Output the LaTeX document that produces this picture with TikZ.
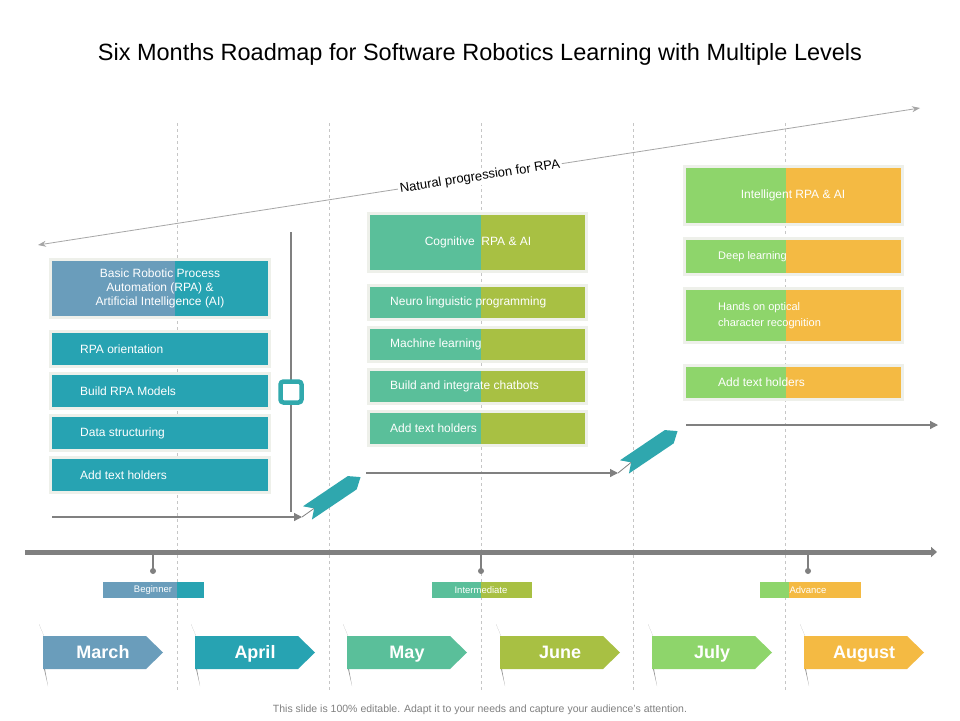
\documentclass[tikz,border=0pt]{standalone}
\usepackage{fontspec}
\setmainfont{Liberation Sans}
\usetikzlibrary{arrows.meta,calc}
\definecolor{cA}{HTML}{6A9DBB}
\definecolor{cB}{HTML}{27A3B2}
\definecolor{cC}{HTML}{5ABF9A}
\definecolor{cD}{HTML}{A8C043}
\definecolor{cE}{HTML}{8ED56B}
\definecolor{cF}{HTML}{F4BA43}
\definecolor{frame}{HTML}{EEF0EA}
\definecolor{ln}{HTML}{808080}
\tikzset{
 txt/.style={text=white,font=\fontsize{12}{14}\selectfont,align=left,anchor=west,inner sep=0},
 ctxt/.style={text=white,font=\fontsize{12}{14}\selectfont,align=center,inner sep=0},
 lvl/.style={text=white,font=\fontsize{9.5}{10}\selectfont},
 conn/.style={draw=ln,line width=1.2pt,-{Triangle[length=8pt,width=8pt]}},
 vdash/.style={draw=gray!45,dashed,line width=0.8pt}
}
\newcommand{\splitbox}[7]{
 \fill[frame] (#1-3,#2-3) rectangle (#3+3,#4+3);
 \fill[#6] (#1,#2) rectangle (#5,#4);
 \fill[#7] (#5,#2) rectangle (#3,#4);
}
\newcommand{\monthtag}[4]{
 \fill[black!40] (#1-4,624) -- (#1+1,636) -- (#1+1,669) -- (#1+5,686) -- (#1+2,669) -- (#1+1,636) -- cycle;
 \fill[#2] (#1,636) -- (#1+103,636) -- (#1+120,652.5) -- (#1+103,669) -- (#1,669) -- cycle;
 \node[text=white,font=\bfseries\fontsize{18}{20}\selectfont,text height=13pt,text depth=4pt,inner sep=0] (#3) at (#1+60,654) {#4};
}
\newcommand{\chev}[4]{
 \begin{scope}[shift={(#1,#2)},rotate=#3]
 \fill[cB!85!cC] (-32,-8) -- (22,-8) -- (32,0) -- (22,8) -- (-32,8) -- (-24,0) -- cycle;
 \coordinate (#4) at (-24,0);
 \end{scope}
}
\begin{document}
\begin{tikzpicture}[x=1pt,y=-1pt]
\useasboundingbox (0,0) rectangle (960,720);
\fill[white] (0,0) rectangle (960,720);
\foreach \x in {177,329,481,633,785} \draw[vdash] (\x,123) -- (\x,690);
\node[font=\fontsize{23.5}{26}\selectfont] (title) at (480,54) {Six Months Roadmap for Software Robotics Learning with Multiple Levels};
\coordinate (pL) at (38,245);
\coordinate (pR) at (920,108);
\draw[draw=gray!70,line width=0.8pt,{Stealth[length=8pt]}-{Stealth[length=8pt]}] (pL) -- (pR);
\node[fill=white,rotate=8.8,font=\fontsize{13}{15}\selectfont,inner sep=2pt] (prog) at (480,177) {Natural progression for RPA};
\splitbox{52}{261}{268}{316}{175}{cA}{cB}
\node[ctxt] (lt) at (160,288.5) {Basic Robotic Process\\Automation (RPA) \&\\Artificial Intelligence (AI)};
\foreach \y/\t/\n in {333/RPA orientation/l1,375/Build RPA Models/l2,417/Data structuring/l3,459/Add text holders/l4}{
 \splitbox{52}{\y}{268}{\y+32}{175}{cB}{cB}
 \node[txt] (\n) at (80,\y+16) {\t};
}
\splitbox{370}{215}{585}{270}{481}{cC}{cD}
\node[ctxt] (mt) at (478,242.5) {Cognitive\ \ RPA \& AI};
\foreach \y/\t/\n in {287/Neuro linguistic programming/m1,329/Machine learning/m2,371/Build and integrate chatbots/m3,413/Add text holders/m4}{
 \splitbox{370}{\y}{585}{\y+31}{481}{cC}{cD}
 \node[txt] (\n) at (390,\y+15.5) {\t};
}
\splitbox{686}{168}{901}{223}{786}{cE}{cF}
\node[ctxt] (rt) at (793,195.5) {Intelligent RPA \& AI};
\splitbox{686}{240}{901}{273}{786}{cE}{cF}
\node[txt,font=\fontsize{11}{13}\selectfont] (r1) at (718,256.5) {Deep learning};
\splitbox{686}{290}{901}{341}{786}{cE}{cF}
\node[txt,font=\fontsize{11}{16}\selectfont] (r2) at (718,315.5) {Hands on optical\\character recognition};
\splitbox{686}{367}{901}{398}{786}{cE}{cF}
\node[txt] (r3) at (718,382.5) {Add text holders};
\coordinate (vt) at (291,232);
\coordinate (vb) at (291,512);
\draw[ln,line width=1.2pt] (vt) -- (vb);
\node[draw=cB!80!cC,line width=4.5pt,fill=white,rounded corners=3pt,minimum size=21pt,inner sep=0] (mk) at (291,392) {};
\coordinate (s1a) at (52,517);
\coordinate (s1b) at (302,517);
\draw[conn] (s1a) -- (s1b);
\chev{334}{495}{34}{ch1}
\draw[ln,line width=0.8pt] (s1b) -- (ch1);
\coordinate (s2a) at (366,473);
\coordinate (s2b) at (618,473);
\draw[conn] (s2a) -- (s2b);
\chev{651}{449}{34}{ch2}
\draw[ln,line width=0.8pt] (s2b) -- (ch2);
\coordinate (s3a) at (686,425);
\coordinate (s3b) at (938,425);
\draw[conn] (s3a) -- (s3b);
\coordinate (tl) at (25,552);
\coordinate (tr) at (937,552);
\draw[ln,line width=5pt,-{Triangle[length=6pt,width=10pt]}] (tl) -- (tr);
\foreach \x/\n in {153/t1,481/t2,808/t3}{
 \draw[ln,line width=1.2pt] (\x,552) -- (\x,570);
 \fill[ln] (\x,571) circle (3pt);
}
\fill[cA] (103,582) rectangle (177,598); \fill[cB] (177,582) rectangle (204,598);
\node[lvl] (lv1) at (153,590) {Beginner};
\fill[cC] (432,582) rectangle (481,598); \fill[cD] (481,582) rectangle (532,598);
\node[lvl] (lv2) at (481,590) {Intermediate};
\fill[cE] (760,582) rectangle (789,598); \fill[cF] (789,582) rectangle (861,598);
\node[lvl] (lv3) at (808,590) {Advance};
\monthtag{43}{cA}{mo1}{March}
\monthtag{195}{cB}{mo2}{April}
\monthtag{347}{cC}{mo3}{May}
\monthtag{500}{cD}{mo4}{June}
\monthtag{652}{cE}{mo5}{July}
\monthtag{804}{cF}{mo6}{August}
\node[text=gray,font=\fontsize{10.5}{12}\selectfont] (foot) at (480,710) {This slide is 100\% editable. Adapt it to your needs and capture your audience's attention.};
\end{tikzpicture}
\end{document}
